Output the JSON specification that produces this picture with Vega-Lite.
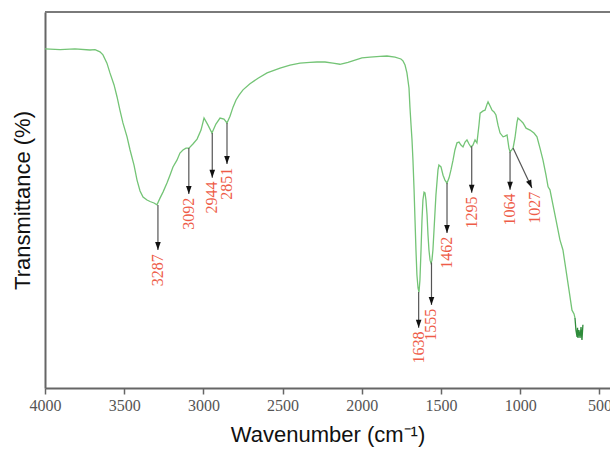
{
  "$schema": "https://vega.github.io/schema/vega-lite/v6.json",
  "width": 565,
  "height": 376,
  "autosize": {"type": "none"},
  "padding": {"left": 45, "top": 12, "right": 0, "bottom": 63},
  "background": "white",
  "config": {
    "view": {"stroke": null},
    "axis": {
      "titleFont": "Liberation Sans",
      "titleFontSize": 22,
      "titleFontWeight": "normal",
      "titleColor": "#111",
      "domainColor": "#666",
      "domainWidth": 2,
      "grid": false
    },
    "axisX": {
      "labelFont": "Liberation Serif",
      "labelFontSize": 16,
      "labelColor": "#555",
      "labelFlush": false,
      "labelOverlap": false,
      "labelPadding": 3,
      "tickColor": "#666",
      "tickSize": 6,
      "tickWidth": 1.5,
      "titlePadding": 11
    },
    "axisY": {
      "labels": false,
      "ticks": false,
      "titlePadding": 11
    }
  },
  "datasets": {
    "spectrum": [
      {"wn": 4000, "t": 90.2, "segment": "main"},
      {"wn": 3905, "t": 90.0, "segment": "main"},
      {"wn": 3811, "t": 90.2, "segment": "main"},
      {"wn": 3716, "t": 89.9, "segment": "main"},
      {"wn": 3684, "t": 90.0, "segment": "main"},
      {"wn": 3653, "t": 89.4, "segment": "main"},
      {"wn": 3634, "t": 88.6, "segment": "main"},
      {"wn": 3609, "t": 86.4, "segment": "main"},
      {"wn": 3590, "t": 83.8, "segment": "main"},
      {"wn": 3564, "t": 80.6, "segment": "main"},
      {"wn": 3545, "t": 77.4, "segment": "main"},
      {"wn": 3527, "t": 73.9, "segment": "main"},
      {"wn": 3508, "t": 70.5, "segment": "main"},
      {"wn": 3482, "t": 66.8, "segment": "main"},
      {"wn": 3463, "t": 63.3, "segment": "main"},
      {"wn": 3438, "t": 59.3, "segment": "main"},
      {"wn": 3419, "t": 55.3, "segment": "main"},
      {"wn": 3400, "t": 52.4, "segment": "main"},
      {"wn": 3381, "t": 50.8, "segment": "main"},
      {"wn": 3356, "t": 50.0, "segment": "main"},
      {"wn": 3337, "t": 49.6, "segment": "main"},
      {"wn": 3312, "t": 49.2, "segment": "main"},
      {"wn": 3293, "t": 48.7, "segment": "main"},
      {"wn": 3274, "t": 50.5, "segment": "main"},
      {"wn": 3255, "t": 52.1, "segment": "main"},
      {"wn": 3230, "t": 54.5, "segment": "main"},
      {"wn": 3211, "t": 56.6, "segment": "main"},
      {"wn": 3192, "t": 58.8, "segment": "main"},
      {"wn": 3167, "t": 60.6, "segment": "main"},
      {"wn": 3148, "t": 62.5, "segment": "main"},
      {"wn": 3129, "t": 63.3, "segment": "main"},
      {"wn": 3110, "t": 63.8, "segment": "main"},
      {"wn": 3091, "t": 63.8, "segment": "main"},
      {"wn": 3066, "t": 64.9, "segment": "main"},
      {"wn": 3040, "t": 66.2, "segment": "main"},
      {"wn": 3015, "t": 68.6, "segment": "main"},
      {"wn": 2996, "t": 71.8, "segment": "main"},
      {"wn": 2971, "t": 69.9, "segment": "main"},
      {"wn": 2946, "t": 67.8, "segment": "main"},
      {"wn": 2921, "t": 70.2, "segment": "main"},
      {"wn": 2895, "t": 71.8, "segment": "main"},
      {"wn": 2870, "t": 71.5, "segment": "main"},
      {"wn": 2851, "t": 70.5, "segment": "main"},
      {"wn": 2832, "t": 72.3, "segment": "main"},
      {"wn": 2813, "t": 74.7, "segment": "main"},
      {"wn": 2794, "t": 76.6, "segment": "main"},
      {"wn": 2775, "t": 77.9, "segment": "main"},
      {"wn": 2750, "t": 79.3, "segment": "main"},
      {"wn": 2706, "t": 80.9, "segment": "main"},
      {"wn": 2655, "t": 82.4, "segment": "main"},
      {"wn": 2598, "t": 83.8, "segment": "main"},
      {"wn": 2516, "t": 85.1, "segment": "main"},
      {"wn": 2453, "t": 85.9, "segment": "main"},
      {"wn": 2390, "t": 86.4, "segment": "main"},
      {"wn": 2327, "t": 86.6, "segment": "main"},
      {"wn": 2283, "t": 86.7, "segment": "main"},
      {"wn": 2232, "t": 86.7, "segment": "main"},
      {"wn": 2182, "t": 86.4, "segment": "main"},
      {"wn": 2138, "t": 86.1, "segment": "main"},
      {"wn": 2087, "t": 86.6, "segment": "main"},
      {"wn": 2043, "t": 87.2, "segment": "main"},
      {"wn": 1999, "t": 87.8, "segment": "main"},
      {"wn": 1948, "t": 88.0, "segment": "main"},
      {"wn": 1885, "t": 88.2, "segment": "main"},
      {"wn": 1841, "t": 88.3, "segment": "main"},
      {"wn": 1790, "t": 88.0, "segment": "main"},
      {"wn": 1753, "t": 87.5, "segment": "main"},
      {"wn": 1740, "t": 87.0, "segment": "main"},
      {"wn": 1727, "t": 85.9, "segment": "main"},
      {"wn": 1715, "t": 83.8, "segment": "main"},
      {"wn": 1702, "t": 79.8, "segment": "main"},
      {"wn": 1696, "t": 74.7, "segment": "main"},
      {"wn": 1689, "t": 69.9, "segment": "main"},
      {"wn": 1683, "t": 66.0, "segment": "main"},
      {"wn": 1677, "t": 60.6, "segment": "main"},
      {"wn": 1670, "t": 52.7, "segment": "main"},
      {"wn": 1664, "t": 44.7, "segment": "main"},
      {"wn": 1658, "t": 36.7, "segment": "main"},
      {"wn": 1652, "t": 30.1, "segment": "main"},
      {"wn": 1645, "t": 26.6, "segment": "main"},
      {"wn": 1639, "t": 25.5, "segment": "main"},
      {"wn": 1633, "t": 28.7, "segment": "main"},
      {"wn": 1626, "t": 36.7, "segment": "main"},
      {"wn": 1620, "t": 44.7, "segment": "main"},
      {"wn": 1614, "t": 50.0, "segment": "main"},
      {"wn": 1607, "t": 52.1, "segment": "main"},
      {"wn": 1601, "t": 51.9, "segment": "main"},
      {"wn": 1595, "t": 50.0, "segment": "main"},
      {"wn": 1588, "t": 46.0, "segment": "main"},
      {"wn": 1582, "t": 40.7, "segment": "main"},
      {"wn": 1576, "t": 36.7, "segment": "main"},
      {"wn": 1569, "t": 34.0, "segment": "main"},
      {"wn": 1563, "t": 33.2, "segment": "main"},
      {"wn": 1557, "t": 34.0, "segment": "main"},
      {"wn": 1551, "t": 36.7, "segment": "main"},
      {"wn": 1544, "t": 42.0, "segment": "main"},
      {"wn": 1532, "t": 51.3, "segment": "main"},
      {"wn": 1519, "t": 58.0, "segment": "main"},
      {"wn": 1513, "t": 59.3, "segment": "main"},
      {"wn": 1500, "t": 58.8, "segment": "main"},
      {"wn": 1487, "t": 56.6, "segment": "main"},
      {"wn": 1475, "t": 55.3, "segment": "main"},
      {"wn": 1462, "t": 54.5, "segment": "main"},
      {"wn": 1449, "t": 55.9, "segment": "main"},
      {"wn": 1437, "t": 58.0, "segment": "main"},
      {"wn": 1424, "t": 60.6, "segment": "main"},
      {"wn": 1412, "t": 63.3, "segment": "main"},
      {"wn": 1399, "t": 65.2, "segment": "main"},
      {"wn": 1386, "t": 65.4, "segment": "main"},
      {"wn": 1374, "t": 64.6, "segment": "main"},
      {"wn": 1361, "t": 64.1, "segment": "main"},
      {"wn": 1348, "t": 65.4, "segment": "main"},
      {"wn": 1336, "t": 66.0, "segment": "main"},
      {"wn": 1323, "t": 64.9, "segment": "main"},
      {"wn": 1311, "t": 64.1, "segment": "main"},
      {"wn": 1298, "t": 64.6, "segment": "main"},
      {"wn": 1285, "t": 66.0, "segment": "main"},
      {"wn": 1273, "t": 65.2, "segment": "main"},
      {"wn": 1260, "t": 70.0, "segment": "main"},
      {"wn": 1253, "t": 73.1, "segment": "main"},
      {"wn": 1234, "t": 73.7, "segment": "main"},
      {"wn": 1222, "t": 73.9, "segment": "main"},
      {"wn": 1209, "t": 75.5, "segment": "main"},
      {"wn": 1203, "t": 76.1, "segment": "main"},
      {"wn": 1190, "t": 75.0, "segment": "main"},
      {"wn": 1178, "t": 73.9, "segment": "main"},
      {"wn": 1165, "t": 73.4, "segment": "main"},
      {"wn": 1153, "t": 72.6, "segment": "main"},
      {"wn": 1140, "t": 69.9, "segment": "main"},
      {"wn": 1127, "t": 67.8, "segment": "main"},
      {"wn": 1108, "t": 66.8, "segment": "main"},
      {"wn": 1096, "t": 67.0, "segment": "main"},
      {"wn": 1083, "t": 67.3, "segment": "main"},
      {"wn": 1071, "t": 63.8, "segment": "main"},
      {"wn": 1064, "t": 62.8, "segment": "main"},
      {"wn": 1045, "t": 63.8, "segment": "main"},
      {"wn": 1033, "t": 66.5, "segment": "main"},
      {"wn": 1020, "t": 70.7, "segment": "main"},
      {"wn": 1014, "t": 71.8, "segment": "main"},
      {"wn": 1001, "t": 71.3, "segment": "main"},
      {"wn": 982, "t": 70.5, "segment": "main"},
      {"wn": 963, "t": 69.1, "segment": "main"},
      {"wn": 938, "t": 68.6, "segment": "main"},
      {"wn": 913, "t": 67.8, "segment": "main"},
      {"wn": 894, "t": 66.8, "segment": "main"},
      {"wn": 875, "t": 63.8, "segment": "main"},
      {"wn": 856, "t": 60.6, "segment": "main"},
      {"wn": 837, "t": 56.6, "segment": "main"},
      {"wn": 824, "t": 53.5, "segment": "main"},
      {"wn": 812, "t": 52.7, "segment": "main"},
      {"wn": 793, "t": 48.7, "segment": "main"},
      {"wn": 774, "t": 44.7, "segment": "main"},
      {"wn": 749, "t": 39.4, "segment": "main"},
      {"wn": 730, "t": 36.7, "segment": "main"},
      {"wn": 711, "t": 31.4, "segment": "main"},
      {"wn": 692, "t": 26.1, "segment": "main"},
      {"wn": 673, "t": 20.7, "segment": "main"},
      {"wn": 660, "t": 19.7, "segment": "main"},
      {"wn": 654, "t": 18.6, "segment": "main"},
      {"wn": 654, "t": 18.6, "segment": "end"},
      {"wn": 648, "t": 15.4, "segment": "end"},
      {"wn": 641, "t": 13.6, "segment": "end"},
      {"wn": 638, "t": 16.0, "segment": "end"},
      {"wn": 635, "t": 13.3, "segment": "end"},
      {"wn": 629, "t": 15.4, "segment": "end"},
      {"wn": 622, "t": 13.3, "segment": "end"},
      {"wn": 616, "t": 16.2, "segment": "end"},
      {"wn": 610, "t": 12.8, "segment": "end"},
      {"wn": 604, "t": 16.8, "segment": "end"}
    ],
    "peaks": [
      {"label": "3287", "x1": 3287, "y1": 48.7, "x2": 3287, "y2": 36.7, "lx": 3287, "ly": 35.6},
      {"label": "3092", "x1": 3092, "y1": 63.8, "x2": 3092, "y2": 51.6, "lx": 3092, "ly": 50.6},
      {"label": "2944", "x1": 2944, "y1": 67.8, "x2": 2944, "y2": 55.9, "lx": 2944, "ly": 54.9},
      {"label": "2851", "x1": 2851, "y1": 70.5, "x2": 2851, "y2": 59.6, "lx": 2851, "ly": 58.6},
      {"label": "1638", "x1": 1641, "y1": 25.5, "x2": 1641, "y2": 16.0, "lx": 1641, "ly": 15.0},
      {"label": "1555", "x1": 1560, "y1": 33.4, "x2": 1560, "y2": 22.1, "lx": 1560, "ly": 21.1},
      {"label": "1462", "x1": 1462, "y1": 54.5, "x2": 1462, "y2": 41.2, "lx": 1462, "ly": 40.2},
      {"label": "1295", "x1": 1306, "y1": 64.3, "x2": 1306, "y2": 51.9, "lx": 1306, "ly": 50.9},
      {"label": "1064", "x1": 1064, "y1": 62.8, "x2": 1064, "y2": 52.7, "lx": 1064, "ly": 51.7},
      {"label": "1027", "x1": 1045, "y1": 63.8, "x2": 926, "y2": 53.2, "lx": 907, "ly": 52.2}
    ]
  },
  "layer": [
    {
      "data": {"name": "spectrum"},
      "mark": {"type": "line", "strokeWidth": 1.3, "clip": true},
      "encoding": {
        "x": {
          "field": "wn",
          "type": "quantitative",
          "scale": {"domain": [4000, 433], "nice": false, "zero": false},
          "axis": {
            "values": [4000, 3500, 3000, 2500, 2000, 1500, 1000, 500],
            "format": "d",
            "title": "Wavenumber (cm⁻¹)"
          }
        },
        "y": {
          "field": "t",
          "type": "quantitative",
          "scale": {"domain": [0, 100], "nice": false},
          "axis": {"title": "Transmittance (%)"}
        },
        "color": {
          "field": "segment",
          "type": "nominal",
          "scale": {"domain": ["main", "end"], "range": ["#74c476", "#2e8b3a"]},
          "legend": null
        }
      }
    },
    {
      "data": {"values": [{}]},
      "mark": {"type": "rule", "color": "#7a7a7a", "strokeWidth": 2},
      "encoding": {"y": {"datum": 100, "type": "quantitative"}}
    },
    {
      "data": {"name": "peaks"},
      "mark": {"type": "rule", "color": "#555", "strokeWidth": 1.2},
      "encoding": {
        "x": {"field": "x1", "type": "quantitative"},
        "x2": {"field": "x2"},
        "y": {"field": "y1", "type": "quantitative"},
        "y2": {"field": "y2"}
      }
    },
    {
      "data": {"name": "peaks"},
      "transform": [{"filter": "datum.label != '1027'"}],
      "mark": {"type": "point", "shape": "M-0.7,-2L0.7,-2L0,0Z", "filled": true, "color": "#111", "opacity": 1, "size": 64},
      "encoding": {
        "x": {"field": "x2", "type": "quantitative"},
        "y": {"field": "y2", "type": "quantitative"}
      }
    },
    {
      "data": {"name": "peaks"},
      "transform": [{"filter": "datum.label == '1027'"}],
      "mark": {"type": "point", "shape": "M-0.7,-2L0.7,-2L0,0Z", "filled": true, "color": "#111", "opacity": 1, "size": 64, "angle": 336},
      "encoding": {
        "x": {"field": "x2", "type": "quantitative"},
        "y": {"field": "y2", "type": "quantitative"}
      }
    },
    {
      "data": {"name": "peaks"},
      "mark": {"type": "text", "angle": 270, "align": "right", "baseline": "middle", "font": "Liberation Serif", "fontSize": 16, "color": "#ee5c48"},
      "encoding": {
        "x": {"field": "lx", "type": "quantitative"},
        "y": {"field": "ly", "type": "quantitative"},
        "text": {"field": "label"}
      }
    }
  ]
}
